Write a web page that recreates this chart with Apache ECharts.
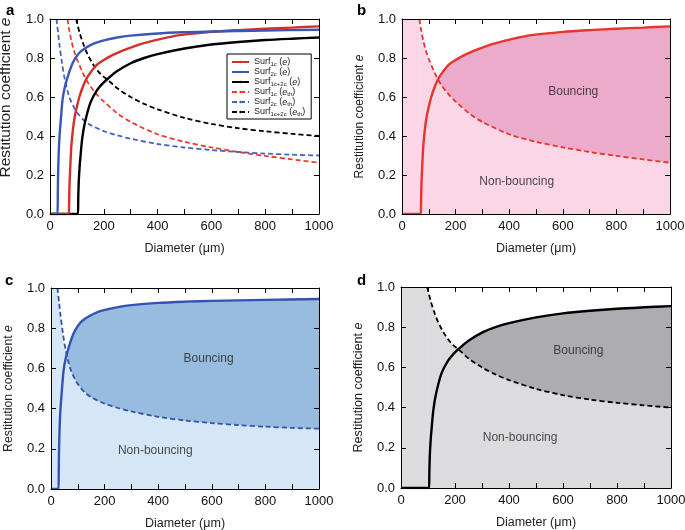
<!DOCTYPE html>
<html>
<head>
<meta charset="utf-8">
<script src="https://cdn.jsdelivr.net/npm/echarts@6/dist/echarts.min.js"></script>
<style>
  html, body { margin: 0; padding: 0; background: #fff; }
  #chart { width: 685px; height: 530px; }
</style>
</head>
<body>
<div id="chart"></div>
<script>
// axis ranges
const X_MIN = 0, X_MAX = 1000, X_STEP = 200
const Y_MIN = 0, Y_MAX = 1, Y_STEP = 0.2

// Surf1c, restitution coefficient e
const d1c = [0, 70, 71, 72, 73, 76, 79, 85, 92, 100, 109, 120, 134, 150, 174, 200, 236, 270, 310, 350, 409, 483, 600, 700, 800, 900, 1000]
const e1c = [0, 0, 0.05, 0.12, 0.17, 0.26, 0.34, 0.43, 0.5, 0.55, 0.6, 0.645, 0.69, 0.725, 0.765, 0.79, 0.817, 0.838, 0.858, 0.876, 0.897, 0.917, 0.934, 0.943, 0.95, 0.956, 0.962]
// Surf2c, e
const d2c = [0, 28, 29, 30, 32, 35, 40, 47, 55, 66, 80, 91, 110, 128, 160, 190, 250, 300, 400, 500, 600, 800, 1000]
const e2c = [0, 0, 0.1, 0.2, 0.3, 0.39, 0.48, 0.59, 0.65, 0.705, 0.76, 0.792, 0.828, 0.848, 0.872, 0.887, 0.905, 0.915, 0.926, 0.932, 0.936, 0.941, 0.945]
// Surf1c+2c, e
const d12 = [0, 104, 105, 107, 110, 113, 120, 130, 150, 175, 200, 220, 250, 300, 350, 400, 500, 600, 700, 800, 900, 1000]
const e12 = [0, 0, 0.08, 0.17, 0.24, 0.29, 0.39, 0.47, 0.57, 0.635, 0.675, 0.7, 0.733, 0.773, 0.8, 0.82, 0.849, 0.869, 0.882, 0.892, 0.899, 0.905]

// threshold e_th
const dTh1c = [65, 70, 80, 90, 100, 120, 134, 150, 170, 200, 250, 300, 400, 500, 600, 700, 800, 900, 1000]
const eTh1c = [1.0, 0.955, 0.885, 0.835, 0.795, 0.73, 0.69, 0.655, 0.62, 0.577, 0.517, 0.472, 0.409, 0.37, 0.342, 0.318, 0.298, 0.28, 0.263]
const dTh2c = [24, 30, 35, 45, 55, 65, 75, 90, 100, 125, 150, 200, 250, 300, 400, 500, 600, 700, 800, 900, 1000]
const eTh2c = [1.0, 0.93, 0.87, 0.77, 0.69, 0.632, 0.588, 0.545, 0.522, 0.482, 0.457, 0.425, 0.403, 0.386, 0.359, 0.341, 0.328, 0.318, 0.31, 0.304, 0.3]
const dTh12 = [97, 110, 125, 140, 160, 180, 200, 217, 250, 300, 350, 400, 500, 600, 700, 800, 900, 1000]
const eTh12 = [1.0, 0.93, 0.868, 0.818, 0.768, 0.73, 0.703, 0.685, 0.645, 0.6, 0.565, 0.537, 0.493, 0.462, 0.44, 0.424, 0.411, 0.4]

const zip = (xs, ys) => xs.map((x, i) => [x, ys[i]])

const FONT = "'Liberation Sans', Arial, Helvetica, sans-serif"

const grids = [
  { left: 50, top: 19, width: 269, height: 195 },
  { left: 402, top: 19, width: 268, height: 195 },
  { left: 51, top: 288, width: 268, height: 201 },
  { left: 401, top: 287, width: 270, height: 201 }
]
// panel a has a larger y-axis title, sitting a bit high
const yNameSize = [15.5, 12, 12.3, 12.6]
const yNamePad = [[0, 0, 0, 38], 0, 0, 0]

const xAxes = []
const yAxes = []
grids.forEach((g, i) => {
  const tick = { show: true, inside: true, length: 5, lineStyle: { color: '#000', width: 1 } }
  const base = {
    gridIndex: i, type: 'value', min: X_MIN, max: X_MAX, interval: X_STEP, z: 10,
    axisLine: { show: true, onZero: false, lineStyle: { color: '#000', width: 1 } },
    axisTick: tick,
    minorTick: { show: true, splitNumber: 2, length: 5, lineStyle: { color: '#000', width: 1 } },
    splitLine: { show: false }
  }
  xAxes.push({
    ...base, position: 'bottom',
    axisLabel: { color: '#111', fontSize: 13, fontFamily: FONT, margin: 6, formatter: v => String(v) },
    name: 'Diameter (μm)', nameLocation: 'middle', nameGap: 28,
    nameTextStyle: { color: '#222', fontSize: 12.5, fontFamily: FONT }
  })
  xAxes.push({ ...base, position: 'top', axisLabel: { show: false } })
  const ybase = {
    gridIndex: i, type: 'value', min: Y_MIN, max: Y_MAX, interval: Y_STEP, z: 10,
    axisLine: { show: true, onZero: false, lineStyle: { color: '#000', width: 1 } },
    axisTick: tick,
    splitLine: { show: false }
  }
  const ns = yNameSize[i]
  yAxes.push({
    ...ybase, position: 'left',
    axisLabel: { color: '#111', fontSize: 13, fontFamily: FONT, margin: 6, formatter: v => v.toFixed(1) },
    name: '{n|Restitution coefficient }{i|e}', nameLocation: 'middle', nameGap: 36,
    nameTextStyle: {
      color: '#222', fontSize: ns, fontFamily: FONT, padding: yNamePad[i],
      rich: { n: { fontSize: ns, fontFamily: FONT, color: '#222' }, i: { fontSize: ns, fontFamily: FONT, fontStyle: 'italic', color: '#222' } }
    }
  })
  yAxes.push({ ...ybase, position: 'right', axisLabel: { show: false } })
})

const line = (name, g, data, color, dashed, width) => ({
  name, type: 'line', data, xAxisIndex: 2 * g, yAxisIndex: 2 * g,
  showSymbol: false, symbol: 'none', smooth: 0.3, z: 5,
  lineStyle: { color, width, type: dashed ? [5, 3] : 'solid' },
  itemStyle: { color }
})

const fill = (g, data, color, z, extra) => ({
  type: 'line', data, xAxisIndex: 2 * g, yAxisIndex: 2 * g,
  showSymbol: false, symbol: 'none', smooth: 0.3, silent: true, z,
  lineStyle: { width: 0, opacity: 0 },
  areaStyle: { color, opacity: 1, origin: 'start' },
  ...extra
})

const note = (g, pts) => ({
  type: 'scatter', xAxisIndex: 2 * g, yAxisIndex: 2 * g, silent: true, z: 6,
  symbolSize: 1, itemStyle: { color: 'rgba(0,0,0,0)' },
  data: pts.map(p => ({ value: [p[0], p[1]], name: p[2] })),
  label: { show: true, position: 'inside', formatter: '{b}', color: '#222', fontSize: 12, fontFamily: FONT }
})

// one bouncing-map panel: dark fill under e, light fill under e_th and left of it
// (the left block overlaps the e_th fill by one unit so no seam shows)
const panel = (g, dSolid, eSolid, dTh, eTh, lineColor, light, dark, notes) => [
  fill(g, zip(dSolid, eSolid), dark, 1),
  fill(g, zip(dTh, eTh), light, 2, {
    markArea: { silent: true, itemStyle: { color: light, opacity: 1 }, data: [[{ xAxis: X_MIN }, { xAxis: dTh[0] + 1 }]] }
  }),
  line('p' + g + '-th', g, zip(dTh, eTh), lineColor, true, 1.8),
  line('p' + g + '-e', g, zip(dSolid, eSolid), lineColor, false, 2.4),
  note(g, notes)
]

const legendNames = ['Surf1c (e)', 'Surf2c (e)', 'Surf1c+2c (e)', 'Surf1c (eth)', 'Surf2c (eth)', 'Surf1c+2c (eth)']

const series = [
  line('Surf1c (eth)', 0, zip(dTh1c, eTh1c), '#EE3A2E', true, 1.8),
  line('Surf2c (eth)', 0, zip(dTh2c, eTh2c), '#4363C4', true, 1.8),
  line('Surf1c+2c (eth)', 0, zip(dTh12, eTh12), '#000', true, 1.8),
  line('Surf1c+2c (e)', 0, zip(d12, e12), '#000', false, 2.4),
  line('Surf1c (e)', 0, zip(d1c, e1c), '#D42F2A', false, 2.4),
  line('Surf2c (e)', 0, zip(d2c, e2c), '#3A57B8', false, 2.4),
  ...panel(1, d1c, e1c, dTh1c, eTh1c, '#E8342A', '#FAD6E7', '#EDABCC',
    [[639, 0.627, 'Bouncing'], [428, 0.166, 'Non-bouncing']]),
  ...panel(2, d2c, e2c, dTh2c, eTh2c, '#3552B2', '#D5E7F6', '#98BCDF',
    [[588, 0.647, 'Bouncing'], [389, 0.193, 'Non-bouncing']]),
  ...panel(3, d12, e12, dTh12, eTh12, '#000', '#DCDCDE', '#ADACB0',
    [[657, 0.683, 'Bouncing'], [441, 0.248, 'Non-bouncing']])
]

const legendLabel = name => {
  const m = name.match(/^Surf(\S+) \((e)(th)?\)$/)
  return '{n|Surf}{s|' + m[1] + '}{n| (}{i|e}' + (m[3] ? '{s|th}' : '') + '{n|)}'
}

const option = {
  animation: false,
  backgroundColor: '#fff',
  textStyle: { fontFamily: FONT },
  title: [
    { text: 'a', left: 1, top: -2 },
    { text: 'b', left: 352, top: -2 },
    { text: 'c', left: 0, top: 268 },
    { text: 'd', left: 352, top: 268 }
  ].map(t => ({ ...t, textStyle: { fontSize: 15, fontWeight: 'bold', color: '#000', fontFamily: FONT } })),
  grid: grids.map(g => ({ ...g, show: false, outerBoundsMode: 'none' })),
  xAxis: xAxes,
  yAxis: yAxes,
  legend: {
    data: legendNames,
    orient: 'vertical',
    left: 227,
    top: 54,
    itemWidth: 17,
    itemHeight: 3,
    itemGap: 0,
    padding: [3, 6, 2, 4],
    borderColor: '#000',
    borderWidth: 1,
    backgroundColor: '#fff',
    selectedMode: false,
    formatter: legendLabel,
    textStyle: {
      fontSize: 9, lineHeight: 9, color: '#222', fontFamily: FONT,
      rich: {
        n: { fontSize: 9, lineHeight: 9, fontFamily: FONT, color: '#222' },
        i: { fontSize: 9, lineHeight: 9, fontFamily: FONT, fontStyle: 'italic', color: '#222' },
        s: { fontSize: 6, lineHeight: 9, fontFamily: FONT, color: '#222', padding: [4, 0, 0, 0] }
      }
    }
  },
  series
}

const chart = echarts.init(document.getElementById('chart'))
chart.setOption(option)
</script>
</body>
</html>
